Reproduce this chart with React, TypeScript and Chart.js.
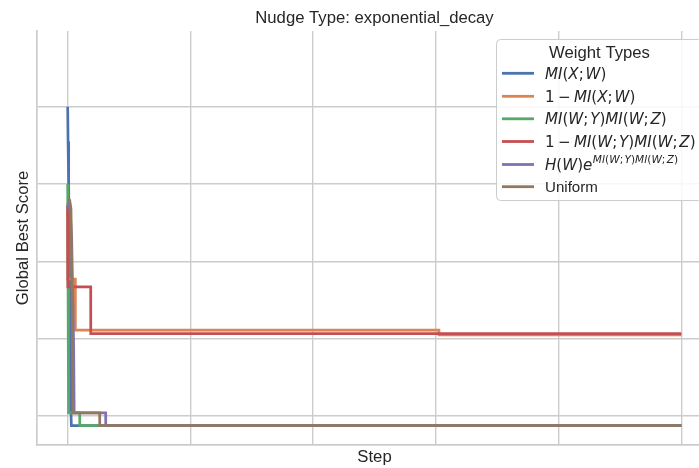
import { useEffect, useRef } from "react";
import { Chart, registerables } from "chart.js";

Chart.register(...registerables);

// Labels
const TITLE = "Nudge Type: exponential_decay";
const X_LABEL = "Step";
const Y_LABEL = "Global Best Score";
const LEGEND_TITLE = "Weight Types";

// Grid positions (tick labels are not shown)
const X_TICKS = [0, 2000, 4000, 6000, 8000, 10000];
const Y_TICKS = [1, 2, 3, 4, 5];

// Global best score per weight type: step where the best changes, and score
const miXWSteps = [0, 6, 16, 28, 42, 52, 60, 10000];
const miXWScores = [5.0, 4.55, 4.0, 3.1, 1.9, 1.1, 0.876, 0.876];

const oneMinusMiXWSteps = [0, 3, 124, 125, 6050, 6051, 10000];
const oneMinusMiXWScores = [3.72, 2.77, 2.77, 2.11, 2.11, 2.05, 2.05];

const miProductSteps = [0, 2, 4, 6, 9, 14, 20, 196, 197, 10000];
const miProductScores = [4.0, 3.8, 3.3, 2.66, 2.1, 1.5, 1.04, 1.04, 0.876, 0.876];

const oneMinusMiProductSteps = [0, 3, 375, 376, 10000];
const oneMinusMiProductScores = [3.73, 2.67, 2.67, 2.065, 2.065];

const entropyExpSteps = [0, 40, 65, 98, 106, 619, 620, 10000];
const entropyExpScores = [3.76, 3.66, 3.3, 1.89, 1.04, 1.04, 0.876, 0.876];

const uniformSteps = [0, 33, 54, 70, 86, 521, 522, 10000];
const uniformScores = [3.8, 3.79, 3.68, 2.6, 1.04, 1.04, 0.876, 0.876];

type Series = {
  label: string; // mathtext-like label; "^" starts a superscript
  plain?: boolean;
  color: string;
  steps: number[];
  scores: number[];
};

const SERIES: Series[] = [
  { label: "MI(X; W)", color: "#4C72B0", steps: miXWSteps, scores: miXWScores },
  { label: "1 − MI(X; W)", color: "#DD8452", steps: oneMinusMiXWSteps, scores: oneMinusMiXWScores },
  { label: "MI(W; Y)MI(W; Z)", color: "#55A868", steps: miProductSteps, scores: miProductScores },
  { label: "1 − MI(W; Y)MI(W; Z)", color: "#C44E52", steps: oneMinusMiProductSteps, scores: oneMinusMiProductScores },
  { label: "H(W)e^MI(W; Y)MI(W; Z)", color: "#8172B3", steps: entropyExpSteps, scores: entropyExpScores },
  { label: "Uniform", plain: true, color: "#937860", steps: uniformSteps, scores: uniformScores },
];

const TEXT_COLOR = "#262626";
const GRID_COLOR = "#cccccc";
const SANS = '"Liberation Sans", Arial, sans-serif';
const MATH = '"DejaVu Sans", sans-serif';

function drawMath(ctx: CanvasRenderingContext2D, x: number, y: number, s: string, size: number): number {
  let cx = x;
  for (const ch of s) {
    if (ch === " ") {
      cx += size * 0.12;
      continue;
    }
    if (ch === "−") {
      cx += size * 0.1;
      ctx.font = `${size}px ${MATH}`;
      ctx.fillText(ch, cx, y);
      cx += ctx.measureText(ch).width + size * 0.1;
      continue;
    }
    const italic = /[A-Za-z]/.test(ch);
    ctx.font = `${italic ? "italic " : ""}${size}px ${MATH}`;
    ctx.fillText(ch, cx, y);
    cx += ctx.measureText(ch).width;
  }
  return cx;
}

const titlePlugin = {
  id: "axesTitle",
  afterDraw(chart: Chart) {
    const { ctx, chartArea } = chart;
    ctx.save();
    ctx.fillStyle = TEXT_COLOR;
    ctx.font = `16.7px ${SANS}`;
    ctx.textAlign = "center";
    ctx.textBaseline = "alphabetic";
    ctx.fillText(TITLE, (chartArea.left + chartArea.right) / 2, 22.5);
    ctx.restore();
  },
};

const legendPlugin = {
  id: "weightLegend",
  afterDraw(chart: Chart) {
    const { ctx } = chart;
    const boxX = 496.5;
    const boxY = 39.5;
    const boxW = 206;
    const boxH = 161;
    ctx.save();
    ctx.beginPath();
    ctx.roundRect(boxX, boxY, boxW, boxH, 4);
    ctx.fillStyle = "rgba(255,255,255,0.85)";
    ctx.fill();
    ctx.strokeStyle = GRID_COLOR;
    ctx.lineWidth = 1;
    ctx.stroke();

    ctx.fillStyle = TEXT_COLOR;
    ctx.textBaseline = "alphabetic";
    ctx.textAlign = "center";
    ctx.font = `16.7px ${SANS}`;
    ctx.fillText(LEGEND_TITLE, boxX + boxW / 2, 57.5);

    ctx.textAlign = "left";
    const rows = [73.3, 96.3, 118.8, 141.5, 164.5, 186.7];
    const size = 15.1;
    SERIES.forEach((s, i) => {
      const cy = rows[i];
      ctx.strokeStyle = s.color;
      ctx.lineWidth = 2.8;
      ctx.beginPath();
      ctx.moveTo(502, cy);
      ctx.lineTo(534, cy);
      ctx.stroke();
      ctx.fillStyle = TEXT_COLOR;
      const base = cy + 5.3;
      if (s.plain) {
        ctx.font = `${size}px ${SANS}`;
        ctx.fillText(s.label, 545, base);
      } else {
        const [main, sup] = s.label.split("^");
        const end = drawMath(ctx, 545, base, main, size);
        if (sup) drawMath(ctx, end + 0.5, base - size * 0.42, sup, size * 0.7);
      }
    });
    ctx.restore();
  },
};

export default function App() {
  const canvasRef = useRef<HTMLCanvasElement | null>(null);

  useEffect(() => {
    const canvas = canvasRef.current;
    if (!canvas) return;
    const chart = new Chart(canvas, {
      type: "line",
      data: {
        // later series are drawn on top of earlier ones
        datasets: SERIES.map((s, i) => ({
          label: s.label,
          data: s.steps.map((x, k) => ({ x, y: s.scores[k] })),
          borderColor: s.color,
          backgroundColor: s.color,
          borderWidth: 2.7,
          pointRadius: 0,
          tension: 0,
          fill: false,
          order: SERIES.length - 1 - i,
          borderJoinStyle: "miter" as const,
        })),
      },
      options: {
        responsive: false,
        animation: false,
        devicePixelRatio: 1,
        layout: { padding: { top: 31, left: 0, right: 0, bottom: 0 } },
        plugins: {
          legend: { display: false },
          title: { display: false },
          tooltip: { enabled: false },
        },
        scales: {
          x: {
            type: "linear",
            min: -500,
            max: 10500,
            afterBuildTicks: (s: any) => {
              s.ticks = X_TICKS.map((v) => ({ value: v }));
            },
            afterFit: (s: any) => {
              s.height = 23;
            },
            ticks: { display: false },
            grid: { color: GRID_COLOR, lineWidth: 1.4, drawTicks: false },
            border: { color: GRID_COLOR, width: 1.7 },
            title: {
              display: true,
              text: X_LABEL,
              color: TEXT_COLOR,
              font: { family: SANS, size: 16.7 },
              padding: { top: 0, bottom: 0.5 },
            },
          },
          y: {
            type: "linear",
            min: 0.625,
            max: 5.98,
            afterBuildTicks: (s: any) => {
              s.ticks = Y_TICKS.map((v) => ({ value: v }));
            },
            afterFit: (s: any) => {
              s.width = 37;
            },
            ticks: { display: false },
            grid: { color: GRID_COLOR, lineWidth: 1.4, drawTicks: false },
            border: { color: GRID_COLOR, width: 1.7 },
            title: {
              display: true,
              text: Y_LABEL,
              color: TEXT_COLOR,
              font: { family: SANS, size: 16.7 },
              padding: { top: 13.5, bottom: 0 },
            },
          },
        },
      },
      plugins: [titlePlugin, legendPlugin],
    });
    return () => chart.destroy();
  }, []);

  return (
    <div
      style={{
        position: "absolute",
        left: 0,
        top: 0,
        width: 699,
        height: 468,
        overflow: "hidden",
        background: "#ffffff",
      }}
    >
      <canvas ref={canvasRef} width={712} height={468} style={{ width: 712, height: 468, display: "block" }} />
    </div>
  );
}
